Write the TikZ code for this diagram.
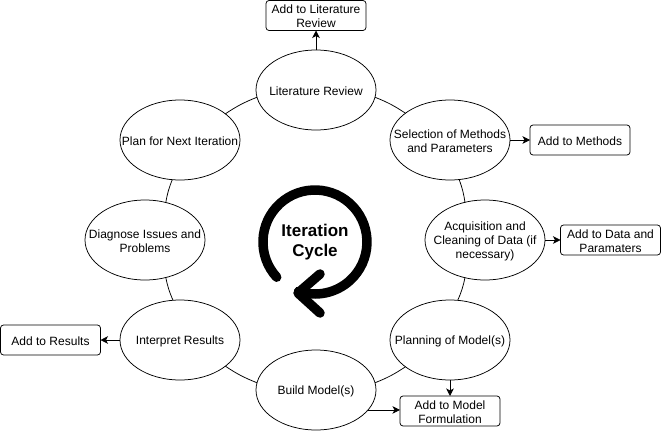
\documentclass[tikz,border=0pt]{standalone}
\usepackage{fontspec}
\setmainfont{Liberation Sans}
\usetikzlibrary{shapes.geometric,arrows.meta}

\tikzset{
    stage/.style={draw,ellipse,minimum width=120pt,minimum height=80pt,inner sep=0pt,outer sep=0pt},
    stagetext/.style={align=center,inner sep=0pt,yshift=-1pt,font=\fontsize{12}{14}\selectfont},
    addbox/.style={draw,rounded corners=3pt,minimum width=100pt,minimum height=30pt,inner sep=0pt,outer sep=0pt},
    flow/.style={-{Stealth[length=7.5pt,width=7.5pt,inset=2pt]}},
    ring/.style={line width=9.5pt,line cap=round,line join=round}
}

\begin{document}
\begin{tikzpicture}[x=1pt,y=-1pt,line width=0.75pt]
    \useasboundingbox (0,0) rectangle (661,431);
    \node (literature) [stage,label={[stagetext]center:Literature Review}] at (316,90) {};
    \node (selection) [stage,label={[stagetext]center:Selection of Methods\\and Parameters}] at (450,140) {};
    \node (acquisition) [stage,label={[stagetext]center:Acquisition and\\Cleaning of Data (if\\necessary)}] at (485,240) {};
    \node (planning) [stage,label={[stagetext]center:Planning of Model(s)}] at (450,340) {};
    \node (build) [stage,label={[stagetext]center:Build Model(s)}] at (316,390) {};
    \node (interpret) [stage,label={[stagetext]center:Interpret Results}] at (180,340) {};
    \node (diagnose) [stage,label={[stagetext]center:Diagnose Issues and\\Problems}] at (145,240) {};
    \node (next) [stage,label={[stagetext]center:Plan for Next Iteration}] at (180,140) {};
    \node (add_lit) [addbox,label={[stagetext]center:Add to Literature\\Review}] at (316,15.5) {};
    \node (add_methods) [addbox,label={[stagetext]center:Add to Methods}] at (580,140) {};
    \node (add_data) [addbox,label={[stagetext]center:Add to Data and\\Paramaters}] at (610.5,240) {};
    \node (add_results) [addbox,label={[stagetext]center:Add to Results}] at (50.5,340) {};
    \node (add_model) [addbox,label={[stagetext]center:Add to Model\\Formulation}] at (450,411) {};
    \draw (literature.-7) to [bend left=6] (selection.149);
    \draw (selection.-77) to [bend left=6] (acquisition.118);
    \draw (acquisition.-118) to [bend left=6] (planning.79);
    \draw (planning.211) to [bend left=6] (build.7);
    \draw (build.173) to [bend left=6] (interpret.-30);
    \draw (interpret.100) to [bend left=6] (diagnose.-61);
    \draw (diagnose.61) to [bend left=6] (next.-101);
    \draw (next.30) to [bend left=6] (literature.187);
    \draw [flow] (literature.north) to (add_lit.south);
    \draw [flow] (selection.east) to (add_methods.west);
    \draw [flow] (acquisition.east) to (add_data.west);
    \draw [flow] (interpret.west) to (add_results.east);
    \draw [flow] (planning.south) to (add_model.north);
    \draw [flow] (build.-21) to (build.-21 -| add_model.west);
    \draw [ring] (276.7,277.2) arc [start angle=137.4,end angle=468.4,radius=52];
    \draw [ring] (320,274) -- (298,293) -- (320,313);
    \node (cycle) [align=center,inner sep=0pt,font=\fontsize{17}{20}\selectfont\bfseries] at (315,242.5) {Iteration\\Cycle};
\end{tikzpicture}
\end{document}
